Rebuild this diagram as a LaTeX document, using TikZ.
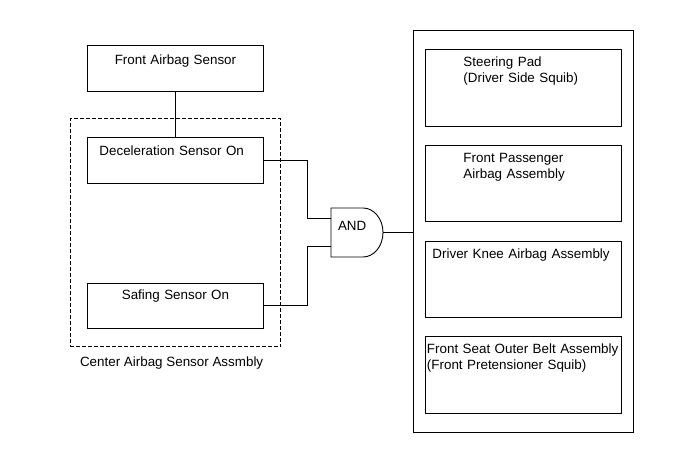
\documentclass[tikz,border=0pt]{standalone}
\usepackage{fontspec}
\setmainfont{Liberation Sans}
\usetikzlibrary{%
	calc,%
	fit,%
	positioning,%
}
\tikzset{
	sensor/.style={%
			draw,%
			rectangle,%
			inner sep=0pt,%
			text width=176pt,%
			align=center,%
			text height=19pt,%
			text depth=27pt},%
	module/.style={%
			draw,%
			rectangle,%
			inner ysep=0pt,%
			inner xsep=#1,%
			text width=196pt-2*#1,%
			align=left,%
			text height=17pt,%
			text depth=60pt},%
	gate/.style={%
			rectangle,%
			inner ysep=0pt,%
			inner xsep=7pt,%
			outer sep=0pt,%
			text width=38pt,%
			align=left,%
			text height=22.5pt,%
			text depth=26.5pt},%
	group/.style={%
			draw,%
			rectangle,%
			dash pattern=on 4pt off 2pt},%
}

\begin{document}
\begin{tikzpicture}[nodes={font={\fontsize{13.4}{16.5}\selectfont}}, line width=0.9pt]%
	\useasboundingbox (0,0) rectangle (691pt,-467pt);

	\node[sensor, anchor=north west] (fab) at (87pt,-45pt) {Front Airbag Sensor};
	\node[sensor, align=left, inner xsep=12pt, text width=152pt, text height=18pt, text depth=28pt] (dec) [below=45pt of fab] {Deceleration Sensor On};
	\node[sensor, text height=16.5pt, text depth=28.5pt] (saf) [below=99pt of dec] {Safing Sensor On};
	\node[group, fit=(dec)(saf), inner xsep=17pt, inner ysep=18pt] (casm) {};
	\node[anchor=base west, inner sep=0pt] (casmname) at ([xshift=10pt, yshift=-19pt]casm.south west) {Center Airbag Sensor Assmbly};

	\node[gate, anchor=north west] (andg) at (331pt,-208pt) {AND};
	\draw (andg.north west) -- ++(32pt,0) arc[start angle=90, end angle=-90, x radius=20pt, y radius=24.5pt] -- (andg.south west) -- cycle;
	\coordinate (in1) at ($(andg.north west)+(0,-10pt)$);
	\coordinate (in2) at ($(andg.south west)+(0,11pt)$);

	\node[module=38pt, anchor=north west] (pad) at (425pt,-49pt) {Steering Pad\\(Driver Side Squib)};
	\node[module=38pt, text depth=59pt] (pass) [below=18pt of pad] {Front Passenger\\Airbag Assembly};
	\node[module=7pt, text depth=59pt] (knee) [below=19pt of pass] {Driver Knee Airbag Assembly};
	\node[module=1.5pt] (belt) [below=18pt of knee] {Front Seat Outer Belt Assembly\\(Front Pretensioner Squib)};
	\node[draw, rectangle, fit=(pad)(belt), inner xsep=12pt, inner ysep=18.5pt] (abag) {};

	\draw (fab) -- (dec);
	\draw (dec.east) -| ([xshift=-24pt]in1) -- (in1);
	\draw (saf.east) -| ([xshift=-24pt]in2) -- (in2);
	\draw (andg.east) -- (andg.east -| abag.west);
\end{tikzpicture}
\end{document}
